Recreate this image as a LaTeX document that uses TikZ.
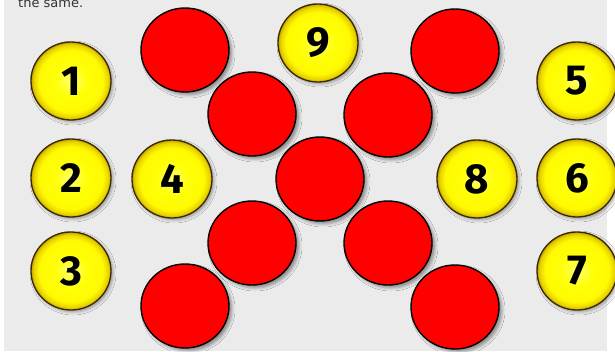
\documentclass[tikz,border=0pt]{standalone}
\usepackage{fontspec}
\setmainfont{DejaVu Sans}
\newfontfamily\numfont{Fira Sans}
\usetikzlibrary{shapes.geometric,shadows.blur}
\definecolor{bgcol}{HTML}{EBEBEB}
\definecolor{ballred}{HTML}{FF0000}
\definecolor{rimcol}{HTML}{3A2A00}
\definecolor{txtcol}{HTML}{333333}
\pgfdeclareradialshading{yball}{\pgfpoint{0bp}{0bp}}{%
  color(0bp)=(yellow!55!white);
  color(10bp)=(yellow!97!white);
  color(20bp)=(yellow!96!orange);
  color(23.5bp)=(yellow!82!orange!90!black);
  color(25bp)=(yellow!65!orange!75!black);
  color(50bp)=(yellow!65!orange!75!black)}
\tikzset{
  yellowball/.style={ellipse, minimum width=80pt, minimum height=78pt, inner sep=0pt,
    draw=rimcol, line width=1.3pt, shading=yball,
    blur shadow={shadow xshift=2pt, shadow yshift=-2pt, shadow blur radius=3pt, shadow opacity=35},
    font=\numfont\bfseries\fontsize{42}{42}\selectfont, text=black},
  redball/.style={ellipse, minimum width=88pt, minimum height=84pt, inner sep=0pt,
    draw=black, line width=1.4pt, fill=ballred,
    blur shadow={shadow xshift=3pt, shadow yshift=-3pt, shadow blur radius=3pt, shadow opacity=40}},
  toptext/.style={anchor=base west, inner sep=0pt, text=txtcol, font=\fontsize{13}{13}\selectfont}
}
\begin{document}
\begin{tikzpicture}[x=1pt,y=-1pt]
\useasboundingbox (0,0) rectangle (615,351);
\clip (0,0) rectangle (615,351);
\fill[white] (0,0) rectangle (615,351);
\fill[bgcol] (4,0) rectangle (607,351);
\node[toptext] (txt) at (18,7) {the same.};
% red balls
\node[redball] (r1) at (185,50) {};
\node[redball] (r2) at (455,51) {};
\node[redball] (r3) at (252,114) {};
\node[redball] (r4) at (388,115) {};
\node[redball] (r5) at (320,179) {};
\node[redball] (r6) at (252,243) {};
\node[redball] (r7) at (388,243) {};
\node[redball] (r8) at (185,306) {};
\node[redball] (r9) at (455,307) {};
% yellow balls
\node[yellowball] (y1) at (71,81) {1};
\node[yellowball] (y2) at (71,178) {2};
\node[yellowball] (y3) at (71,271) {3};
\node[yellowball] (y4) at (172,179) {4};
\node[yellowball] (y9) at (318,43) {9};
\node[yellowball] (y8) at (477,179) {8};
\node[yellowball] (y5) at (577,81) {5};
\node[yellowball] (y6) at (577,178) {6};
\node[yellowball] (y7) at (577,271) {7};
\end{tikzpicture}
\end{document}
